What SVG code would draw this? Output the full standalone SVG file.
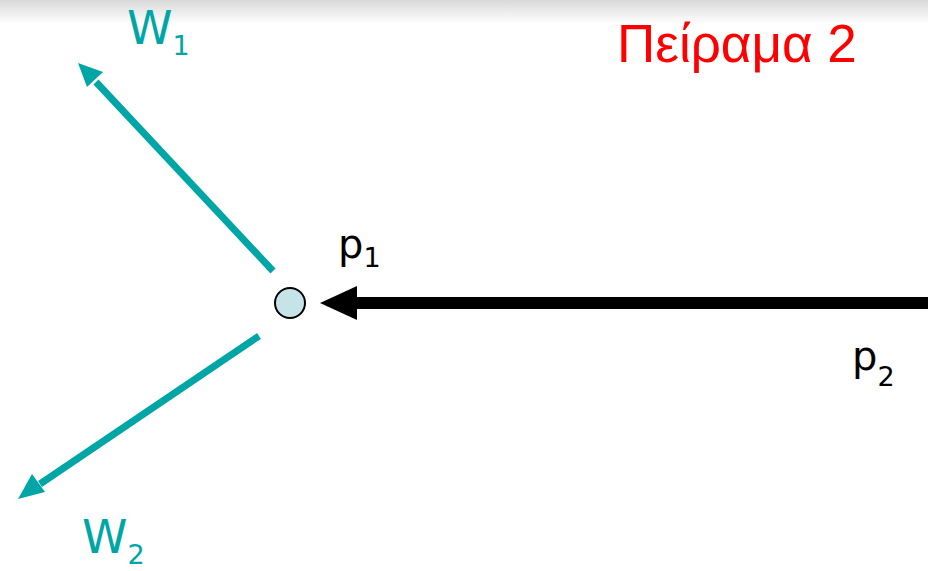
<svg xmlns="http://www.w3.org/2000/svg" width="928" height="571" viewBox="0 0 928 571">
<style>
.teal{fill:#00a6a6;font-family:"DejaVu Sans",Verdana,sans-serif}
.blk{fill:#000;font-family:"DejaVu Sans",Verdana,sans-serif}
.tl{stroke:#00a6a6;stroke-width:7;fill:none}
</style>
<defs>
<linearGradient id="shade" x1="0" y1="0" x2="0" y2="1">
<stop offset="0" stop-color="#d9d9d9"/>
<stop offset="1" stop-color="#ffffff"/>
</linearGradient>
</defs>
<rect x="0" y="0" width="928" height="571" fill="#fff"/>
<rect x="0" y="0" width="928" height="24" fill="url(#shade)"/>
<g id="connectors">
<line class="tl" x1="273" y1="271" x2="96" y2="82"/>
<polygon fill="#00a6a6" points="78,63 103,72 87,87"/>
<line class="tl" x1="259" y1="336" x2="40" y2="484"/>
<polygon fill="#00a6a6" points="18,499 32,474 45,492"/>
<line x1="928" y1="303" x2="350" y2="303" stroke="#000" stroke-width="12"/>
<polygon fill="#000" points="320,303 357,286 357,320"/>
</g>
<g id="node-p1">
<circle cx="290" cy="303" r="15" fill="#c6e4e8" stroke="#000" stroke-width="2"/>
</g>
<g id="label-w1"><text class="teal" x="127" y="44" font-size="46">W<tspan font-size="27" dy="11">1</tspan></text></g>
<g id="label-w2"><text class="teal" x="82" y="553" font-size="46">W<tspan font-size="27" dy="11">2</tspan></text></g>
<g id="label-p1"><text class="blk" x="338" y="258" font-size="40">p<tspan font-size="27" dy="9">1</tspan></text></g>
<g id="label-p2"><text class="blk" x="852" y="370" font-size="40">p<tspan font-size="27" dy="16">2</tspan></text></g>
<g id="title"><text x="617" y="62" font-size="53" fill="#ff0000" font-family="'Liberation Sans',Arial,sans-serif">Πείραμα 2</text></g>
</svg>
